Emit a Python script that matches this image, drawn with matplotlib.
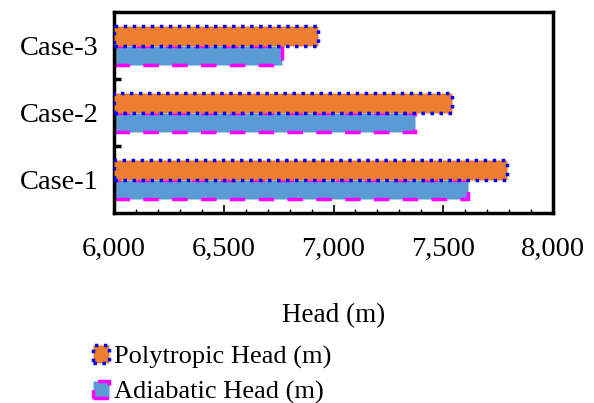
import numpy as np
import matplotlib.pyplot as plt
from matplotlib.ticker import MultipleLocator, FuncFormatter

plt.rcParams['font.family'] = ['Liberation Serif', 'DejaVu Serif']

cases = ['Case-1', 'Case-2', 'Case-3']
polytropic_head = [7790, 7540, 6929]
adiabatic_head = [7613, 7371, 6765]

fs = 20.5

fig = plt.figure(figsize=(5.94, 4.03), dpi=100)
ax = fig.add_axes([0.192, 0.471, 0.739, 0.499])

y = np.arange(len(cases))
h = 0.29
# adiabatic below, polytropic above within each case
ax.barh(y - 0.145, np.array(adiabatic_head) - 6000, left=6000, height=h,
        color='#5B9BD5', edgecolor='#FF00FF', linestyle=(0, (4.5, 3.8)), linewidth=2.5,
        label='Adiabatic Head (m)', zorder=2)
ax.barh(y + 0.145, np.array(polytropic_head) - 6000, left=6000, height=h,
        color='#ED7D31', edgecolor='#0000FF', linestyle=(0, (1, 1.6)), linewidth=2.5,
        label='Polytropic Head (m)', zorder=3)

ax.set_xlim(6000, 8000)
ax.set_ylim(-0.5, 2.5)
ax.xaxis.set_major_locator(MultipleLocator(500))
ax.xaxis.set_minor_locator(MultipleLocator(100))
ax.xaxis.set_major_formatter(FuncFormatter(lambda v, p: f'{int(v):,}'))
ax.set_yticks(y)
ax.set_yticklabels(cases)
ax.set_yticks([0.5, 1.5], minor=True)

ax.tick_params(axis='x', which='major', direction='in', length=6, width=1.2,
               labelsize=fs, pad=17)
ax.tick_params(axis='x', which='minor', direction='in', length=3, width=1.0)
ax.tick_params(axis='y', which='major', length=0, labelsize=fs, pad=11)
ax.tick_params(axis='y', which='minor', direction='in', length=5, width=2.5)

for s in ax.spines.values():
    s.set_linewidth(2.5)

ax.set_xlabel('Head (m)', fontsize=19.5, labelpad=30)

handles, labels = ax.get_legend_handles_labels()
fig.legend(handles[::-1], labels[::-1], loc='upper left',
           bbox_to_anchor=(0.157, 0.143), frameon=False, fontsize=19,
           handlelength=0.6, handleheight=0.65, handletextpad=0.2,
           labelspacing=0.45, borderaxespad=0, borderpad=0)

fig.savefig('out.png', dpi=100)
